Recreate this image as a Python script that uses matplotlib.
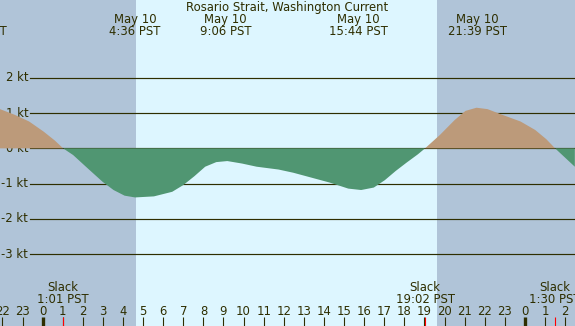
import numpy as np
import matplotlib
matplotlib.use('agg')
import matplotlib.pyplot as plt

# current curve, hours from midnight May 10 (PST), speed in knots
hours = [-2.12, -1.39, -0.67, 0.06, 0.61, 1.02, 1.52, 2.25, 2.99, 3.53, 4.08,
         4.6, 5.54, 6.45, 7.0, 7.55, 8.09, 8.64, 9.19, 9.92, 10.65, 11.74,
         12.47, 13.38, 14.29, 15.21, 15.85, 16.48, 17.03, 17.57, 18.12, 18.67,
         19.03, 19.77, 20.5, 21.04, 21.59, 22.14, 22.87, 23.78, 24.51, 25.06,
         25.5, 26.48]
knots = [1.11, 0.95, 0.76, 0.47, 0.22, 0.0, -0.19, -0.57, -0.95, -1.18, -1.34,
         -1.39, -1.36, -1.23, -1.04, -0.79, -0.52, -0.39, -0.36, -0.43, -0.52, -0.60,
         -0.69, -0.83, -0.97, -1.14, -1.18, -1.11, -0.90, -0.64, -0.40, -0.17,
         0.0, 0.38, 0.80, 1.06, 1.15, 1.11, 0.95, 0.76, 0.52, 0.26,
         0.0, -0.52]

title = "Rosario Strait, Washington Current"
night_spans = [(-2.2, 4.64), (19.6, 26.6)]
peak_times = [-3.27, 4.6, 9.1, 15.73, 21.65]
peak_labels = ["May 9\n20:44 PST", "May 10\n4:36 PST", "May 10\n9:06 PST",
               "May 10\n15:44 PST", "May 10\n21:39 PST"]
slack_times = [1.02, 19.03, 25.5]
slack_labels = ["Slack\n1:01 PST", "Slack\n19:02 PST", "Slack\n1:30 PST"]
kt_levels = [2, 1, 0, -1, -2, -3]
hour_ticks = list(range(-2, 27))
hour_labels = [str(h % 24) for h in hour_ticks]

txt = '#2e2e00'
flood = '#bc9a7a'
ebb = '#509672'
fs = 8.4

fig = plt.figure(figsize=(5.75, 3.26), dpi=100)
ax = fig.add_axes([0, 0, 1, 1])
top, bottom = 4.2, -5.03
ax.set_xlim(-2.12, 26.49)
ax.set_ylim(bottom, top)
ax.axis('off')
kpx = 326 / (top - bottom)   # pixels per knot


def ypix(p):
    return top - p / kpx


ax.axvspan(-3, 30, color='#ddf6ff', zorder=0)
for a, b in night_spans:
    ax.axvspan(a, b, color='#b0c4d8', zorder=1, lw=0)

for k in kt_levels:
    ax.axhline(k, xmin=30 / 575, xmax=1, color=txt, lw=0.85, zorder=2)
    ax.text(-0.72, k, f"{k} kt", ha='right', va='center', fontsize=fs, color=txt)

h = np.array(hours)
v = np.array(knots)
ax.fill_between(h, v, 0, where=v >= 0, interpolate=True, color=flood, lw=0, zorder=3)
ax.fill_between(h, v, 0, where=v <= 0, interpolate=True, color=ebb, lw=0, zorder=3)

ax.text(0.5, 1 - 7 / 326, title, transform=ax.transAxes, ha='center', va='center',
        fontsize=fs, color=txt)
for t, lab in zip(peak_times, peak_labels):
    ax.text(t, ypix(25.5), lab, ha='center', va='center', fontsize=fs,
            color=txt, linespacing=0.98)
for t, lab in zip(slack_times, slack_labels):
    ax.text(t, ypix(293.5), lab, ha='center', va='center', fontsize=fs,
            color=txt, linespacing=0.98)

tick_top = ypix(316.5)
for hh, lab in zip(hour_ticks, hour_labels):
    ax.text(hh, ypix(311.5), lab, ha='center', va='center', fontsize=fs, color=txt)
    lw = 2.4 if hh % 24 == 0 else 0.8
    ax.plot([hh, hh], [bottom, tick_top], color=txt, lw=lw, zorder=4,
            solid_capstyle='butt')
for t in slack_times:
    ax.plot([t, t], [bottom, tick_top], color='red', lw=0.8, zorder=4,
            solid_capstyle='butt')

fig.savefig('out.png', dpi=100)
